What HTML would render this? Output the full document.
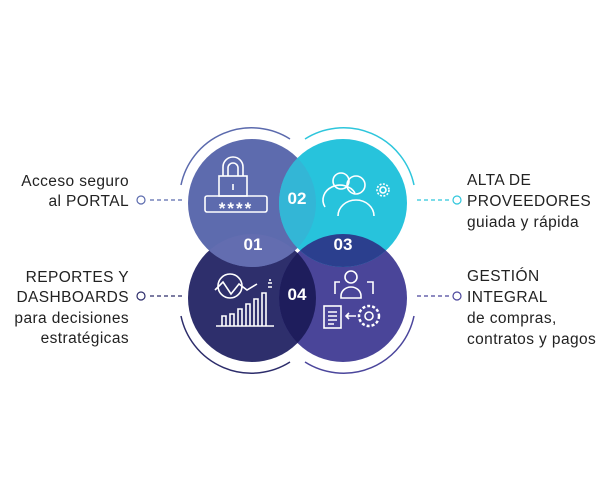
<!DOCTYPE html>
<html><head><meta charset="utf-8"><style>
html,body{margin:0;padding:0;background:#fff;width:614px;height:491px;overflow:hidden}
svg{display:block}
text{font-family:"Liberation Sans",sans-serif}
.t{font-size:15.5px;fill:#222;letter-spacing:0.4px}
.n{font-size:17px;font-weight:bold;fill:#fff}
</style></head><body>
<svg width="614" height="491" viewBox="0 0 614 491">
<defs>
<clipPath id="cTL"><circle cx="252" cy="203" r="64"/></clipPath>
<clipPath id="cTR"><circle cx="343" cy="203" r="64"/></clipPath>
<clipPath id="cBL"><circle cx="252" cy="298" r="64"/></clipPath>
</defs>
<path d="M181 185 A72 72 0 0 1 290 139" fill="none" stroke="#5b6aad" stroke-width="1.5"/>
<path d="M305 139 A72 72 0 0 1 414 185" fill="none" stroke="#2ec6dc" stroke-width="1.5"/>
<path d="M181 316 A72 72 0 0 0 290 362" fill="none" stroke="#2d2d6b" stroke-width="1.5"/>
<path d="M305 362 A72 72 0 0 0 414 316" fill="none" stroke="#4b469c" stroke-width="1.5"/>
<circle cx="252" cy="298" r="64" fill="#2e2f6c"/>
<circle cx="343" cy="298" r="64" fill="#4a4599"/>
<circle cx="252" cy="203" r="64" fill="#5d6bae"/>
<circle cx="343" cy="203" r="64" fill="#27c3dc"/>
<circle cx="343" cy="203" r="64" fill="#33b6d6" clip-path="url(#cTL)"/>
<circle cx="252" cy="298" r="64" fill="#636db0" clip-path="url(#cTL)"/>
<circle cx="343" cy="298" r="64" fill="#2b3f8e" clip-path="url(#cTR)"/>
<circle cx="343" cy="298" r="64" fill="#1e1d5c" clip-path="url(#cBL)"/>
<g clip-path="url(#cTL)"><circle cx="343" cy="298" r="64" fill="#2a3d88" clip-path="url(#cTR)"/></g>
<text class="n" x="297" y="204" text-anchor="middle">02</text>
<text class="n" x="253" y="250" text-anchor="middle">01</text>
<text class="n" x="343" y="250" text-anchor="middle">03</text>
<text class="n" x="297" y="300" text-anchor="middle">04</text>
<g fill="none" stroke="#fff" stroke-width="1.6">
<path d="M223 176 v-9 a10 10 0 0 1 20 0 v9"/><path d="M228 176 v-8 a5 5 0 0 1 10 0 v8"/>
<rect x="219" y="176" width="28" height="20"/><path d="M233 184 v6"/>
<rect x="205" y="196" width="62" height="16" rx="2"/>
<circle cx="341" cy="181" r="8"/><path d="M325 207 a16 14 0 0 1 30 -14"/>
<circle cx="356" cy="185" r="9"/><path d="M338 216 a18 16 0 0 1 36 0"/>
<circle cx="383" cy="190" r="6" stroke-dasharray="2 1.5"/><circle cx="383" cy="190" r="3"/>
<circle cx="230" cy="286" r="12"/><path d="M215 290 l8 -8 l8 12 l8 -10 l8 6 l10 -6"/>
<path d="M216 326 h58"/><path d="M222 326 v-10 h4 v10 M230 326 v-12 h4 v12 M238 326 v-17 h4 v17 M246 326 v-22 h4 v22 M254 326 v-27 h4 v27 M262 326 v-33 h4 v33"/>
<path d="M268 287 h4 M268 283 h4 M270 279 v2"/>
<circle cx="351" cy="277" r="6"/><path d="M341 296 a10 9 0 0 1 20 0 v2 h-20 z"/>
<path d="M335 294 v-12 h5 M367 282 h6 v12"/>
<rect x="324" y="306" width="17" height="22"/><path d="M328 312 h9 M328 316 h9 M328 320 h9 M328 324 h6"/>
<circle cx="369" cy="316" r="10" stroke-dasharray="3 2" stroke-width="2.5"/><circle cx="369" cy="316" r="4"/>
<path d="M356 316 h-10 M349 313 l-3 3 3 3"/>
</g>
<text x="236" y="214" text-anchor="middle" fill="#fff" font-size="17" font-weight="bold" letter-spacing="2">****</text>
<g stroke-width="1.2" fill="none">
<path d="M150 200 H182" stroke="#5b6aad" stroke-dasharray="4 3"/>
<circle cx="141" cy="200" r="4" stroke="#5b6aad"/>
<path d="M150 296 H182" stroke="#2d2d6b" stroke-dasharray="4 3"/>
<circle cx="141" cy="296" r="4" stroke="#2d2d6b"/>
<path d="M417 200 H449" stroke="#2ec6dc" stroke-dasharray="4 3"/>
<circle cx="457" cy="200" r="4" stroke="#2ec6dc"/>
<path d="M417 296 H449" stroke="#4b469c" stroke-dasharray="4 3"/>
<circle cx="457" cy="296" r="4" stroke="#4b469c"/>
</g>
<g class="t" text-anchor="end">
<text x="129" y="186">Acceso seguro</text>
<text x="129" y="206">al PORTAL</text>
<text x="129" y="282">REPORTES Y</text>
<text x="129" y="302">DASHBOARDS</text>
<text x="129" y="323">para decisiones</text>
<text x="129" y="343">estratégicas</text>
</g>
<g class="t">
<text x="467" y="185">ALTA DE</text>
<text x="467" y="206">PROVEEDORES</text>
<text x="467" y="227">guiada y rápida</text>
<text x="467" y="281">GESTIÓN</text>
<text x="467" y="302">INTEGRAL</text>
<text x="467" y="323">de compras,</text>
<text x="467" y="344">contratos y pagos</text>
</g>
</svg>
</body></html>
